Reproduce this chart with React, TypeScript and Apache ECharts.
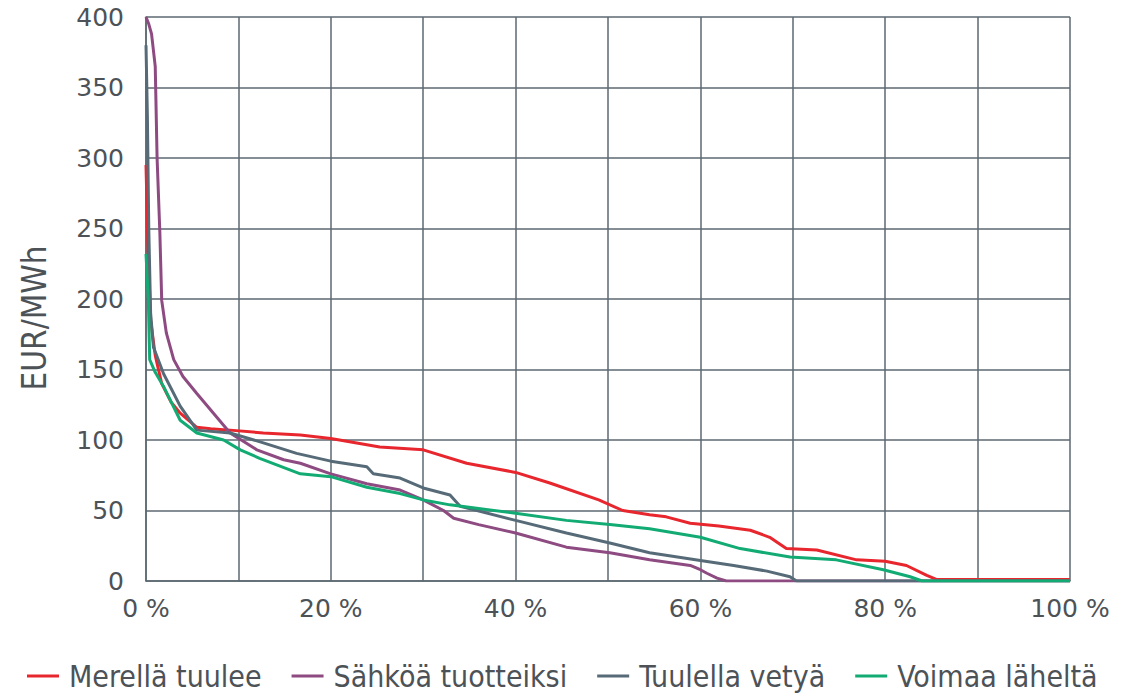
import React, { useEffect, useRef } from "react";
import * as echarts from "echarts";

const seriesNames = ["Merellä tuulee", "Sähköä tuotteiksi", "Tuulella vetyä", "Voimaa läheltä"];
const seriesColors = ["#e8262e", "#8d4b82", "#566b77", "#12ab74"];
const yAxisTitle = "EUR/MWh";

const redX = [0, 0.2, 0.5, 1.0, 1.7, 2.7, 3.7, 5.5, 7, 9.1, 12.7, 16.7, 20, 25.3, 30, 34.7, 40, 43.7, 49, 51.6, 54.5, 56.3, 58.9, 62, 65.4, 67.5, 69.3, 72.6, 76.9, 80, 82.3, 84.5, 85.6, 100];
const redY = [295, 240, 185, 160, 140, 127, 119, 109, 108, 107, 105, 103.5, 101, 95, 93, 83.5, 77, 69.5, 57.5, 50, 47, 45.5, 41, 39, 36, 31, 23, 22, 15, 14, 11, 4, 1, 1];

const purpleX = [0, 0.3, 0.6, 1.0, 1.2, 1.5, 1.7, 2.2, 3.0, 4.0, 5.5, 7.3, 9.1, 12, 14.9, 16.7, 20, 23.9, 27.5, 30, 32.2, 33.3, 36, 40, 45.5, 50.2, 54.5, 58.9, 60, 60.7, 61.8, 62.8, 100];
const purpleY = [400, 395, 388, 365, 300, 247, 199, 176, 157, 145, 133, 119, 105, 93, 86, 83.5, 76, 69, 64.5, 57.5, 50, 44.5, 40, 34, 24, 20, 15, 11, 8, 5.5, 2, 0, 0];

const grayX = [0, 0.15, 0.3, 0.5, 0.8, 1.9, 3.7, 5.5, 9.1, 12.7, 16.3, 20, 23.9, 24.6, 27.5, 30, 32.9, 34, 40, 45.5, 50.2, 54.5, 60, 63.6, 67.2, 69.7, 70.4, 100];
const grayY = [380, 330, 250, 190, 166, 147, 124, 107, 105, 98, 90.5, 85, 81, 76, 73, 66, 61, 53, 43, 34, 27, 20, 14.5, 11, 7, 3, 0, 0];

const greenX = [0, 0.25, 0.4, 1.0, 1.9, 3.7, 5.5, 8.4, 10.2, 12.3, 16.7, 20, 23.9, 27.5, 30, 32.9, 40, 45.5, 50.2, 54.5, 60, 64.3, 69.7, 74.7, 79.8, 82.7, 84, 100];
const greenY = [232, 200, 157, 148, 138, 114, 105, 100, 93, 87, 76, 74, 66.5, 62, 57.5, 54, 48, 43, 40, 37, 31, 23, 17, 15, 8, 3, 0, 0];

const allX = [redX, purpleX, grayX, greenX];
const allY = [redY, purpleY, grayY, greenY];

const gridColor = "#5b6870";
const labelColor = "#4d5257";
const tickFont = "'DejaVu Sans', sans-serif";
const condFont = "'DejaVu Sans Condensed', 'DejaVu Sans', sans-serif";

export default function App() {
  const ref = useRef<HTMLDivElement>(null);
  useEffect(() => {
    if (!ref.current) return;
    const chart = echarts.init(ref.current, null, { renderer: "svg" });
    chart.setOption({
      animation: false,
      backgroundColor: "#ffffff",
      grid: { left: 146, right: 53, top: 17, bottom: 117, containLabel: false },
      legend: {
        top: 656,
        left: 22,
        icon: "rect",
        itemWidth: 32,
        itemHeight: 3,
        itemGap: 30,
        textStyle: { fontSize: 30, color: labelColor, fontFamily: condFont, padding: [0, 0, 0, 5] },
        data: seriesNames,
      },
      graphic: [
        {
          type: "text",
          x: 34,
          y: 318,
          rotation: Math.PI / 2,
          style: {
            text: yAxisTitle,
            fill: labelColor,
            font: "33px 'DejaVu Sans Condensed', 'DejaVu Sans', sans-serif",
            textAlign: "center",
            textVerticalAlign: "middle",
          },
        },
      ],
      xAxis: {
        type: "value",
        min: 0,
        max: 100,
        interval: 10,
        axisLine: { show: true, lineStyle: { color: gridColor, width: 1.5 } },
        axisTick: { show: false },
        splitLine: { show: true, lineStyle: { color: gridColor, width: 1.5 } },
        axisLabel: {
          color: labelColor,
          fontSize: 25,
          fontFamily: tickFont,
          margin: 15,
          formatter: (v: number) => (v % 20 === 0 ? v + " %" : ""),
        },
      },
      yAxis: {
        type: "value",
        min: 0,
        max: 400,
        interval: 50,
        axisLine: { show: true, lineStyle: { color: gridColor, width: 1.5 } },
        axisTick: { show: false },
        splitLine: { show: true, lineStyle: { color: gridColor, width: 1.5 } },
        axisLabel: { color: labelColor, fontSize: 25, fontFamily: tickFont, margin: 22 },
      },
      series: seriesNames.map((name, i) => ({
        name,
        type: "line",
        showSymbol: false,
        symbol: "none",
        lineStyle: { color: seriesColors[i], width: 3 },
        itemStyle: { color: seriesColors[i] },
        data: allX[i].map((x, j) => [x, allY[i][j]]),
      })),
    });
    return () => chart.dispose();
  }, []);
  return <div ref={ref} style={{ position: "fixed", left: 0, top: 0, width: 1123, height: 698 }} />;
}
